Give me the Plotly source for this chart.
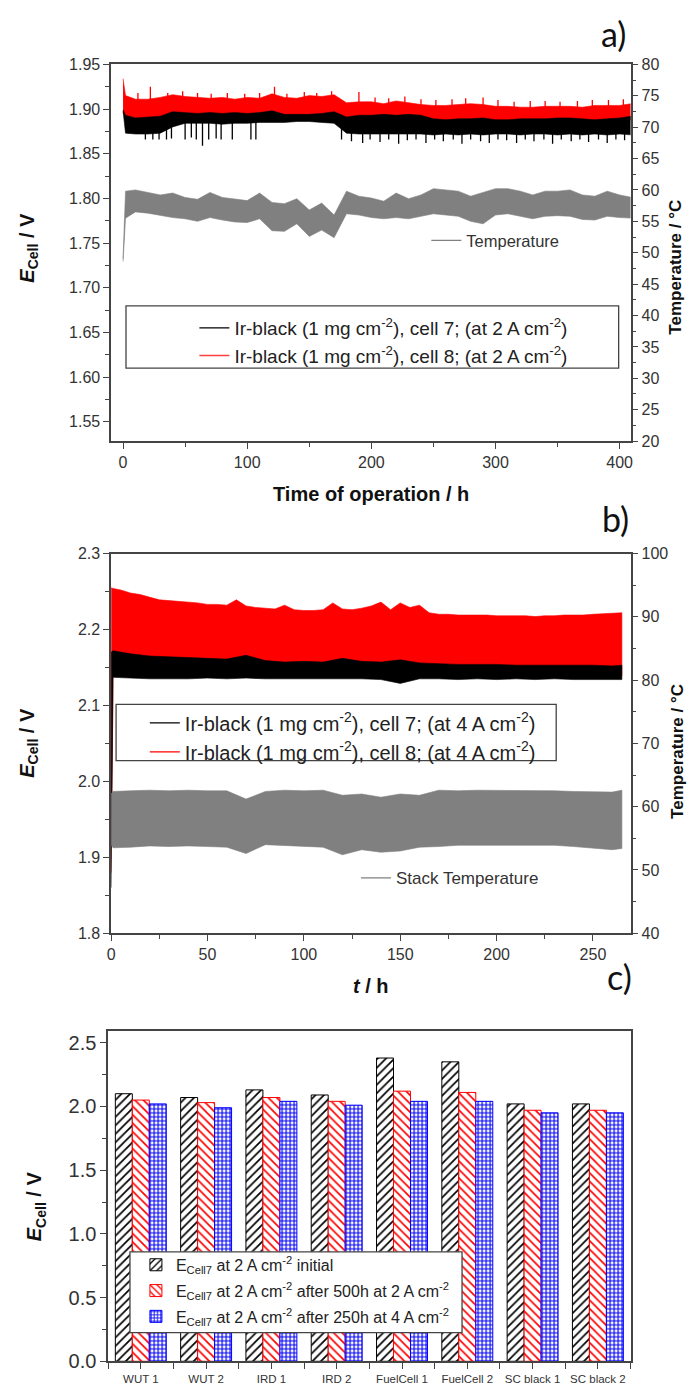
import plotly.graph_objects as go

# The page body has an 8 px margin; the figure is sized so that it fills the rest of the window.
OFF = 8
W, H = 695 - OFF, 1393 - OFF

# ---------------- Panel a data (envelopes of the noisy recordings) ----------------
T_A10 = [0, 2, 10, 20, 30, 40, 50, 60, 70, 80, 90, 100, 110, 120, 130, 140, 150, 160, 170, 180,
         190, 200, 210, 220, 230, 240, 250, 260, 270, 280, 290, 300, 310, 320, 330, 340, 350,
         360, 370, 380, 390, 400, 410]
RED_A_TOP = [1.934, 1.915, 1.911, 1.911, 1.913, 1.916, 1.914, 1.913, 1.912, 1.913, 1.911, 1.913,
             1.912, 1.917, 1.913, 1.912, 1.915, 1.914, 1.916, 1.907, 1.908, 1.908, 1.906, 1.909,
             1.907, 1.905, 1.904, 1.904, 1.905, 1.906, 1.905, 1.903, 1.903, 1.902, 1.902, 1.903,
             1.903, 1.903, 1.902, 1.904, 1.904, 1.904, 1.906]
RED_A_BOT = [1.896, 1.890, 1.887, 1.888, 1.889, 1.893, 1.892, 1.891, 1.892, 1.891, 1.892, 1.891,
             1.892, 1.894, 1.890, 1.890, 1.890, 1.891, 1.893, 1.888, 1.889, 1.889, 1.890, 1.889,
             1.890, 1.889, 1.885, 1.884, 1.885, 1.885, 1.886, 1.884, 1.884, 1.885, 1.885, 1.885,
             1.886, 1.886, 1.885, 1.884, 1.885, 1.886, 1.888]
BLK_A_TOP = [1.899, 1.893, 1.890, 1.891, 1.892, 1.897, 1.896, 1.895, 1.896, 1.895, 1.896, 1.895,
             1.896, 1.898, 1.894, 1.894, 1.894, 1.895, 1.897, 1.891, 1.893, 1.893, 1.894, 1.893,
             1.894, 1.893, 1.889, 1.888, 1.889, 1.889, 1.890, 1.888, 1.888, 1.889, 1.889, 1.889,
             1.890, 1.890, 1.889, 1.888, 1.889, 1.890, 1.892]
BLK_A_BOT = [1.898, 1.873, 1.872, 1.872, 1.873, 1.880, 1.884, 1.884, 1.884, 1.883, 1.884, 1.884,
             1.885, 1.885, 1.885, 1.886, 1.886, 1.885, 1.884, 1.873, 1.872, 1.872, 1.872, 1.872,
             1.872, 1.872, 1.871, 1.872, 1.871, 1.872, 1.871, 1.872, 1.872, 1.871, 1.872, 1.872,
             1.871, 1.872, 1.871, 1.872, 1.871, 1.872, 1.871]
BLK_A_SPIKE_T = [18, 24, 29, 35, 39, 50, 55, 59, 64, 69, 75, 79, 88, 103, 107, 176, 184, 193, 199,
                 207, 214, 222, 229, 236, 244, 251, 258, 266, 273, 280, 288, 295, 302, 309, 317,
                 324, 331, 339, 346, 353, 361, 368, 375, 383, 390, 397, 404]
BLK_A_SPIKE_MIN = [1.866, 1.866, 1.866, 1.866, 1.867, 1.866, 1.868, 1.866, 1.859, 1.866, 1.867,
                   1.866, 1.866, 1.866, 1.866, 1.866, 1.864, 1.862, 1.866, 1.863, 1.866, 1.861,
                   1.865, 1.866, 1.862, 1.866, 1.864, 1.866, 1.861, 1.866, 1.864, 1.862, 1.866,
                   1.865, 1.862, 1.866, 1.864, 1.866, 1.861, 1.866, 1.864, 1.866, 1.863, 1.866,
                   1.862, 1.866, 1.865]
RED_A_SPIKE_T = [12, 22, 36, 48, 60, 71, 84, 98, 110, 122, 132, 146, 156, 168, 190, 203, 214,
                 227, 240, 252, 265, 276, 290, 302, 315, 328, 340, 352, 366, 378, 391, 403]
RED_A_SPIKE_MAX = [1.918, 1.925, 1.918, 1.920, 1.918, 1.917, 1.918, 1.917, 1.918, 1.925, 1.917,
                   1.919, 1.918, 1.920, 1.919, 1.913, 1.912, 1.914, 1.911, 1.910, 1.911, 1.912,
                   1.913, 1.910, 1.908, 1.909, 1.909, 1.908, 1.909, 1.910, 1.910, 1.911]
TEMP_A_TOP = [49.0, 59.8, 60.0, 59.6, 59.2, 59.5, 58.8, 58.5, 59.6, 58.8, 58.6, 58.3, 59.5, 58.0,
              57.8, 58.6, 56.8, 57.9, 56.0, 59.8, 59.0, 58.7, 58.2, 59.5, 58.6, 59.2, 60.2, 60.0,
              59.8, 59.0, 59.6, 60.2, 60.2, 59.8, 59.2, 59.8, 59.8, 60.0, 59.2, 59.0, 59.8, 59.2,
              58.8]
TEMP_A_BOT = [48.6, 55.5, 56.5, 56.3, 56.0, 55.6, 55.4, 55.0, 55.6, 55.2, 54.9, 54.8, 55.4, 53.5,
              53.4, 54.6, 52.6, 53.6, 52.4, 56.2, 56.0, 55.6, 55.4, 55.6, 55.4, 55.8, 56.2, 56.0,
              55.8, 55.0, 54.6, 56.0, 56.2, 55.8, 55.4, 55.8, 55.9, 55.8, 55.3, 55.2, 55.8, 55.6,
              55.5]

# ---------------- Panel b data ----------------
T_B5 = [0, 1, 5, 10, 15, 20, 25, 30, 35, 40, 45, 50, 55, 60, 65, 70, 75, 80, 85, 90, 95, 100,
        105, 110, 115, 120, 125, 130, 135, 140, 145, 150, 155, 160, 165, 170, 175, 180, 185, 190,
        195, 200, 205, 210, 215, 220, 225, 230, 235, 240, 245, 250, 255, 260, 265]
RED_B_TOP = [2.255, 2.254, 2.252, 2.248, 2.246, 2.243, 2.239, 2.238, 2.237, 2.236, 2.235, 2.233,
             2.233, 2.232, 2.239, 2.231, 2.229, 2.228, 2.227, 2.232, 2.226, 2.225, 2.225, 2.226,
             2.235, 2.227, 2.226, 2.228, 2.231, 2.236, 2.226, 2.235, 2.229, 2.232, 2.222, 2.220,
             2.220, 2.219, 2.219, 2.219, 2.219, 2.218, 2.218, 2.218, 2.218, 2.217, 2.218, 2.218,
             2.219, 2.219, 2.219, 2.220, 2.221, 2.222, 2.222]
T_B10 = [0, 1, 10, 20, 30, 40, 50, 60, 70, 80, 90, 100, 110, 120, 130, 140, 150, 160, 170, 180,
         190, 200, 210, 220, 230, 240, 250, 260, 265]
RED_B_BOT = [1.880, 2.142, 2.141, 2.141, 2.140, 2.140, 2.141, 2.140, 2.141, 2.140, 2.140, 2.140,
             2.140, 2.140, 2.140, 2.139, 2.138, 2.140, 2.140, 2.139, 2.140, 2.139, 2.140, 2.139,
             2.140, 2.139, 2.139, 2.139, 2.139]
BLK_B_TOP = [2.170, 2.172, 2.168, 2.165, 2.164, 2.163, 2.162, 2.161, 2.166, 2.159, 2.157, 2.158,
             2.157, 2.162, 2.158, 2.157, 2.160, 2.156, 2.155, 2.154, 2.154, 2.154, 2.153, 2.153,
             2.153, 2.153, 2.153, 2.152, 2.153]
BLK_B_BOT = [1.860, 2.137, 2.136, 2.135, 2.135, 2.135, 2.136, 2.135, 2.136, 2.135, 2.135, 2.135,
             2.135, 2.135, 2.135, 2.134, 2.129, 2.135, 2.135, 2.134, 2.135, 2.134, 2.135, 2.134,
             2.135, 2.134, 2.134, 2.134, 2.134]
TEMP_B_TOP = [62.0, 62.4, 62.5, 62.6, 62.5, 62.6, 62.5, 62.5, 61.2, 62.4, 62.6, 62.5, 62.6, 61.8,
              62.0, 61.5, 62.0, 61.8, 62.6, 62.5, 62.6, 62.6, 62.5, 62.6, 62.5, 62.4, 62.3, 62.3,
              62.6]
TEMP_B_BOT = [54.0, 53.5, 53.6, 53.8, 53.7, 53.8, 53.7, 53.6, 52.6, 54.0, 53.8, 53.7, 53.6, 52.4,
              53.2, 52.8, 53.0, 53.6, 53.7, 53.9, 54.0, 53.9, 54.0, 53.9, 53.9, 53.7, 53.5, 53.2,
              53.4]

# ---------------- Panel c data ----------------
CATEGORIES = ["WUT 1", "WUT 2", "IRD 1", "IRD 2", "FuelCell 1", "FuelCell 2", "SC black 1", "SC black 2"]
E_INITIAL = [2.10, 2.07, 2.13, 2.09, 2.38, 2.35, 2.02, 2.02]
E_AFTER_500H = [2.05, 2.03, 2.07, 2.04, 2.12, 2.11, 1.97, 1.97]
E_AFTER_250H_4A = [2.02, 1.99, 2.04, 2.01, 2.04, 2.04, 1.95, 1.95]

BAR_NAMES = ["E<sub>Cell7</sub> at 2 A cm<sup>-2</sup> initial",
             "E<sub>Cell7</sub> at 2 A cm<sup>-2</sup> after 500h at 2 A cm<sup>-2</sup>",
             "E<sub>Cell7</sub> at 2 A cm<sup>-2</sup> after 250h at 4 A cm<sup>-2</sup>"]

FONT = "Liberation Sans, Arial, sans-serif"
AXC = "#444444"
TICKC = "#333333"
GRAY = "#808080"


def px_x(p):
    return (p - OFF) / W


def px_y(p):
    return 1 - (p - OFF) / H


def band(tt, top, tb, bot, color, xa, ya):
    xs = list(tt) + list(tb)[::-1]
    ys = list(top) + list(bot)[::-1]
    return go.Scatter(x=xs, y=ys, fill="toself", fillcolor=color, mode="lines",
                      line=dict(color=color, width=0.6), showlegend=False,
                      hoverinfo="skip", xaxis=xa, yaxis=ya)


def spikes(ts, ends, base, color, xa, ya):
    xs, ys = [], []
    for t, e in zip(ts, ends):
        xs += [t, t, None]
        ys += [base, e, None]
    return go.Scatter(x=xs, y=ys, mode="lines", line=dict(color=color, width=1.3),
                      showlegend=False, hoverinfo="skip", xaxis=xa, yaxis=ya)


fig = go.Figure()

# Panel a
fig.add_trace(band(T_A10, RED_A_TOP, T_A10, RED_A_BOT, "#ff0000", "x", "y"))
fig.add_trace(spikes(RED_A_SPIKE_T, RED_A_SPIKE_MAX, 1.900, "#ff0000", "x", "y"))
fig.add_trace(band(T_A10, BLK_A_TOP, T_A10, BLK_A_BOT, "#000000", "x", "y"))
fig.add_trace(spikes(BLK_A_SPIKE_T, BLK_A_SPIKE_MIN, 1.886, "#000000", "x", "y"))
fig.add_trace(band(T_A10, TEMP_A_TOP, T_A10, TEMP_A_BOT, GRAY, "x", "y2"))
fig.add_trace(go.Scatter(x=[None], y=[None], mode="lines", line=dict(color="black", width=1.3),
                         name="Ir-black (1 mg cm<sup>-2</sup>), cell 7; (at 2 A cm<sup>-2</sup>)",
                         legend="legend", xaxis="x", yaxis="y"))
fig.add_trace(go.Scatter(x=[None], y=[None], mode="lines", line=dict(color="#ff4040", width=1.3),
                         name="Ir-black (1 mg cm<sup>-2</sup>), cell 8; (at 2 A cm<sup>-2</sup>)",
                         legend="legend", xaxis="x", yaxis="y"))
fig.add_trace(go.Scatter(x=[None], y=[None], mode="lines", line=dict(color=GRAY, width=1.3),
                         name="Temperature", legend="legend2", xaxis="x", yaxis="y2"))

# Panel b
fig.add_trace(band(T_B5, RED_B_TOP, T_B10, RED_B_BOT, "#ff0000", "x2", "y3"))
fig.add_trace(band(T_B10, BLK_B_TOP, T_B10, BLK_B_BOT, "#000000", "x2", "y3"))
fig.add_trace(band(T_B10, TEMP_B_TOP, T_B10, TEMP_B_BOT, GRAY, "x2", "y4"))
fig.add_trace(go.Scatter(x=[None], y=[None], mode="lines", line=dict(color="black", width=1.3),
                         name="Ir-black (1 mg cm<sup>-2</sup>), cell 7; (at 4 A cm<sup>-2</sup>)",
                         legend="legend3", xaxis="x2", yaxis="y3"))
fig.add_trace(go.Scatter(x=[None], y=[None], mode="lines", line=dict(color="red", width=1.3),
                         name="Ir-black (1 mg cm<sup>-2</sup>), cell 8; (at 4 A cm<sup>-2</sup>)",
                         legend="legend3", xaxis="x2", yaxis="y3"))
fig.add_trace(go.Scatter(x=[None], y=[None], mode="lines", line=dict(color=GRAY, width=1.3),
                         name="Stack Temperature", legend="legend4", xaxis="x2", yaxis="y4"))

# Panel c
xpos = list(range(len(CATEGORIES)))
bar_specs = [(E_INITIAL, "black", "/", 6, 0.28), (E_AFTER_500H, "red", "\\", 6, 0.28),
             (E_AFTER_250H_4A, "blue", "+", 4, 0.5)]
for i, ((vals, col, shp, sz, sol), nm) in enumerate(zip(bar_specs, BAR_NAMES)):
    fig.add_trace(go.Bar(
        x=xpos, y=vals, name=nm, legend="legend5", legendgroup="g%d" % i,
        xaxis="x3", yaxis="y5",
        marker=dict(color=col, line=dict(color=col, width=1),
                    pattern=dict(shape=shp, fgcolor=col, bgcolor="white", size=sz,
                                 solidity=sol, fillmode="replace"))))

DOM_X = [px_x(108), px_x(632)]
common = dict(showline=True, linecolor=AXC, linewidth=1.5, ticks="outside", tickcolor=AXC,
              ticklen=6, tickwidth=1.2, showgrid=False, zeroline=False,
              tickfont=dict(family=FONT, size=16, color=TICKC))


def minor(d, t0=None):
    m = dict(ticks="outside", dtick=d, ticklen=4, tickcolor=AXC)
    if t0 is not None:
        m["tick0"] = t0
    return m


fig.update_layout(
    width=W, height=H, margin=dict(l=0, r=0, t=0, b=0),
    paper_bgcolor="white", plot_bgcolor="white", barmode="group", bargap=0.22, bargroupgap=0,
    xaxis=dict(domain=DOM_X, anchor="y", range=[-9.6, 408.8], dtick=100, tick0=0, mirror=True,
               minor=minor(50), **common),
    yaxis=dict(domain=[px_y(439), px_y(57)], anchor="x", range=[1.5284, 1.95], dtick=0.05,
               tick0=1.55, tickformat=".2f", minor=minor(0.025), **common),
    yaxis2=dict(overlaying="y", side="right", anchor="x", range=[20, 80], dtick=5, tick0=20,
                minor=minor(2.5), **common),
    xaxis2=dict(domain=DOM_X, anchor="y3", range=[0, 269.5], dtick=50, tick0=0, mirror=True,
                minor=minor(25), **common),
    yaxis3=dict(domain=[px_y(938), px_y(553)], anchor="x2", range=[1.8, 2.3], dtick=0.1,
                tick0=1.8, tickformat=".1f", minor=minor(0.05), **common),
    yaxis4=dict(overlaying="y3", side="right", anchor="x2", range=[40, 100], dtick=10, tick0=40,
                minor=minor(5), **common),
    xaxis3=dict(domain=[px_x(105), px_x(632)], anchor="y5", range=[-0.5, 7.5],
                tickvals=xpos, ticktext=CATEGORIES, mirror=True,
                minor=dict(ticks="outside", dtick=1, tick0=0.5, ticklen=6, tickcolor=AXC),
                **{**common, "tickfont": dict(family=FONT, size=11.5, color=TICKC)}),
    yaxis5=dict(domain=[px_y(1372), px_y(1037)], anchor="x3", range=[0, 2.593], dtick=0.5,
                tick0=0, tickformat=".1f", mirror=True, minor=minor(0.25),
                **{**common, "tickfont": dict(family=FONT, size=20, color=TICKC)}),
    legend=dict(x=px_x(192), y=px_y(305), xanchor="left", yanchor="top", bgcolor="rgba(0,0,0,0)",
                font=dict(family=FONT, size=19, color="#222"), tracegroupgap=0),
    legend2=dict(x=px_x(426), y=px_y(218), xanchor="left", yanchor="top", bgcolor="rgba(0,0,0,0)",
                 font=dict(family=FONT, size=16.5, color="#333")),
    legend3=dict(x=px_x(142), y=px_y(705), xanchor="left", yanchor="top", bgcolor="rgba(0,0,0,0)",
                 font=dict(family=FONT, size=20, color="#222")),
    legend4=dict(x=px_x(355), y=px_y(864), xanchor="left", yanchor="top", bgcolor="rgba(0,0,0,0)",
                 font=dict(family=FONT, size=17, color="#333")),
    legend5=dict(x=px_x(133), y=px_y(1257), xanchor="left", yanchor="top", bgcolor="rgba(0,0,0,0)",
                 font=dict(family=FONT, size=16, color="#222"), tracegroupgap=2),
)

# legend frames
for x0, x1, y0, y1 in [(123, 620, 302, 365), (113, 557, 706, 763), (127, 462, 1261, 1343)]:
    fig.add_shape(type="rect", xref="paper", yref="paper", x0=px_x(x0), x1=px_x(x1),
                  y0=px_y(y1), y1=px_y(y0), line=dict(color="#444", width=1.3),
                  fillcolor="white", layer="above")

ann = []


def text(x, y, s, size, angle=0, family=FONT, color="#111"):
    ann.append(dict(x=px_x(x), y=px_y(y), xref="paper", yref="paper", text=s, showarrow=False,
                    textangle=angle, font=dict(family=family, size=size, color=color),
                    xanchor="center", yanchor="middle"))


ecell = "<b><i>E</i><sub>Cell</sub> / V</b>"
text(25, 243, ecell, 20, -90)
text(25, 745, ecell, 20, -90)
text(32, 1215, ecell, 20, -90)
text(677, 263, "<b>Temperature / °C</b>", 17, -90)
text(680, 754, "<b>Temperature / °C</b>", 17, -90)
text(370, 493, "<b>Time of operation / h</b>", 20)
text(370, 991, "<b><i>t</i> / h</b>", 20)
text(615, 26, "a)", 34, family="Lato, Open Sans, sans-serif")
text(617, 517, "b)", 34, family="Lato, Open Sans, sans-serif")
text(621, 982, "c)", 34, family="Lato, Open Sans, sans-serif")
fig.update_layout(annotations=ann)

fig.write_html("out.html")
